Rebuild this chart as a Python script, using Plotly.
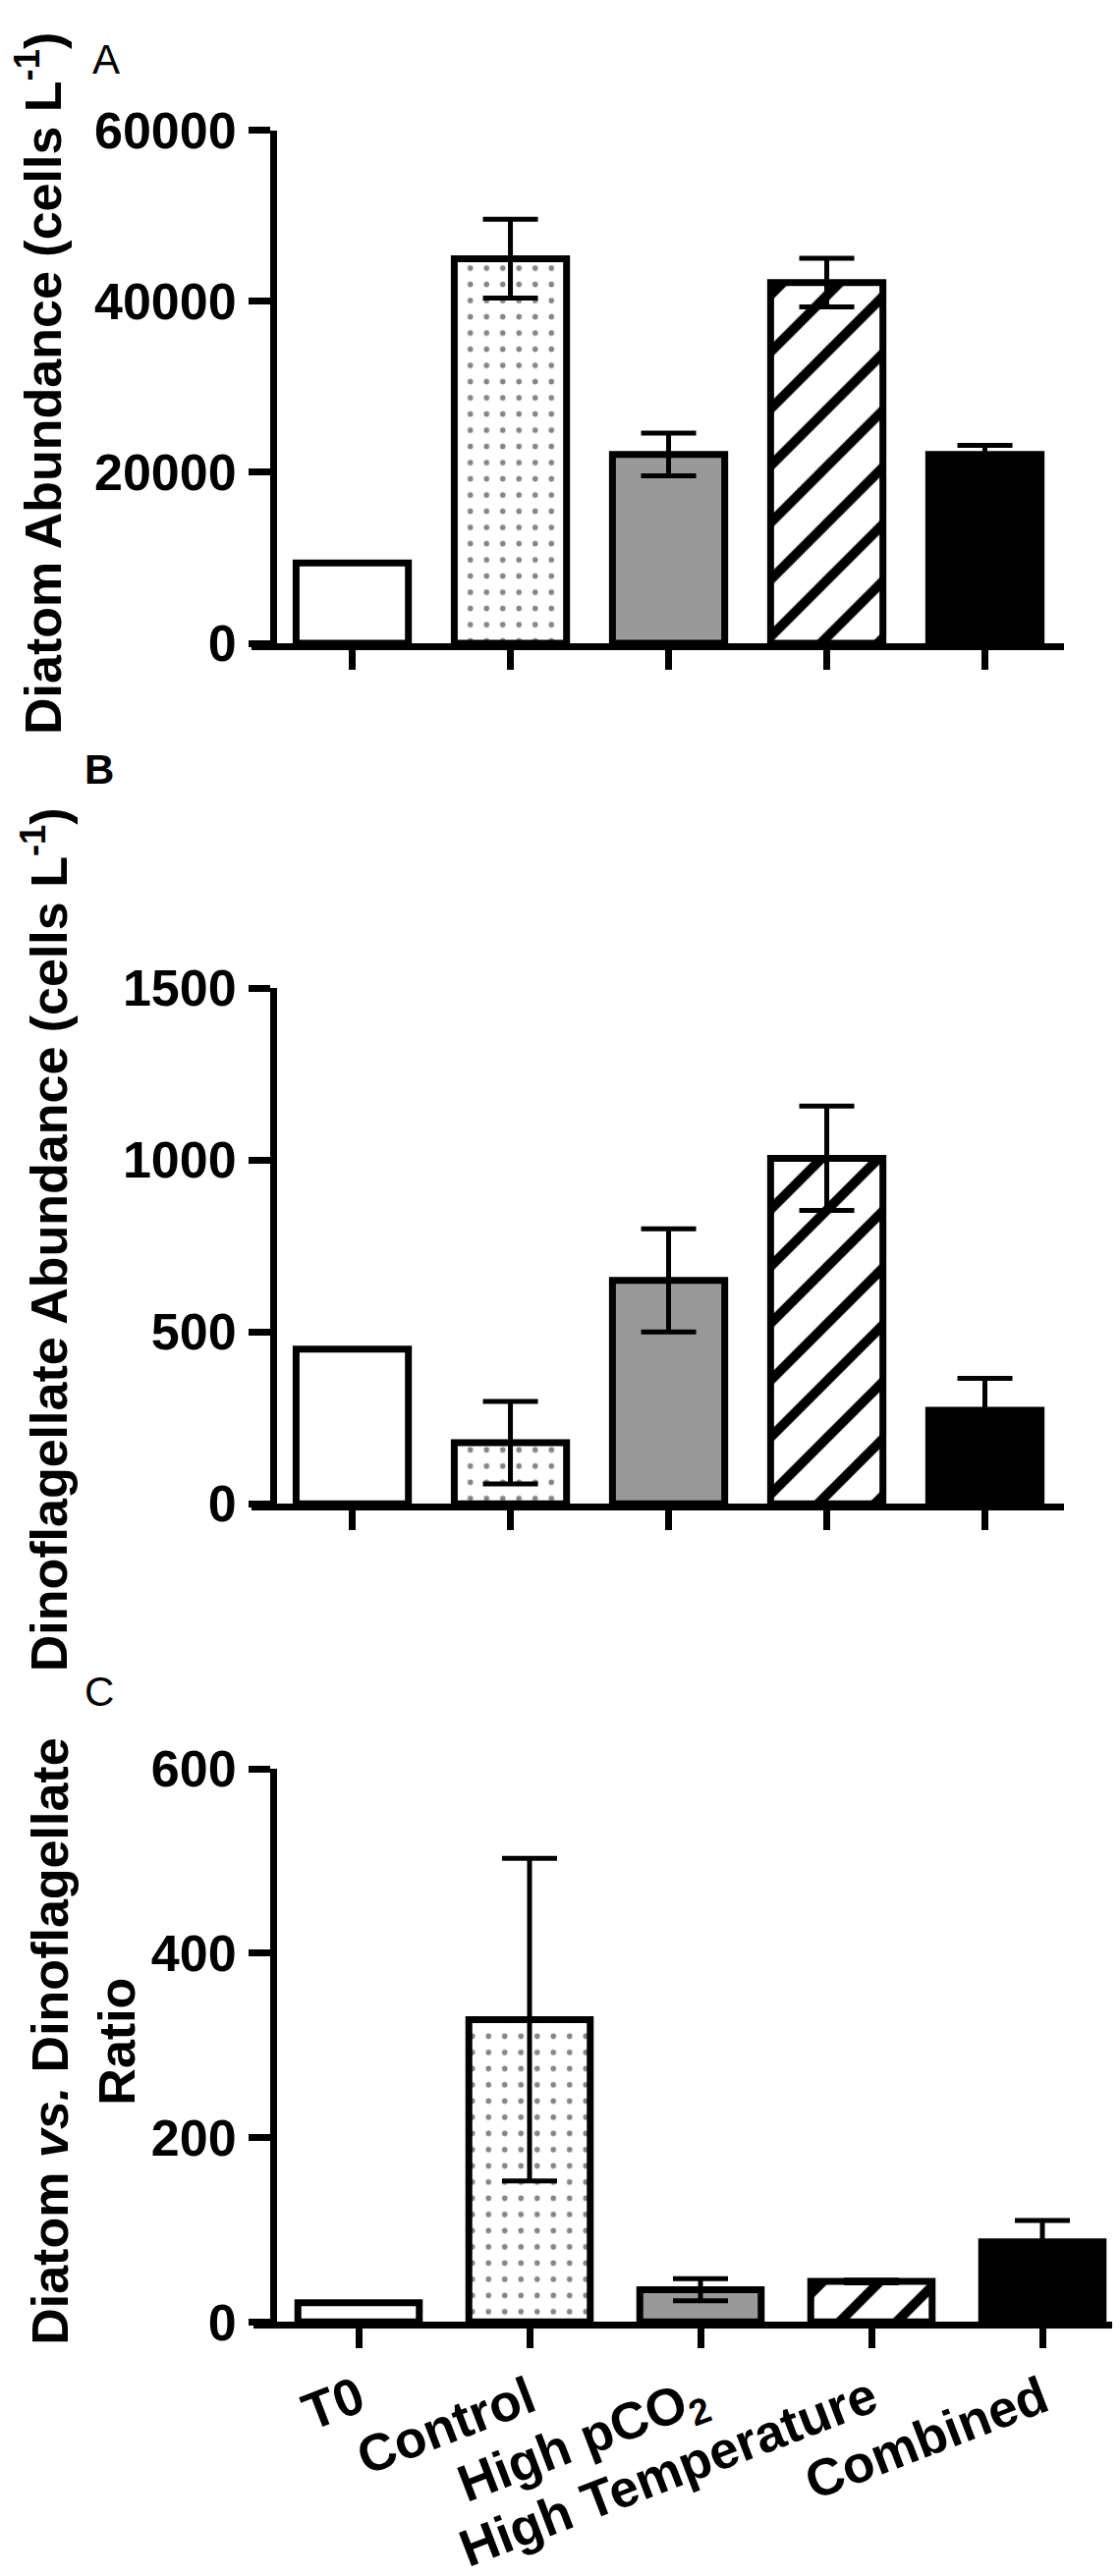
import plotly.graph_objects as go

# dati
categorie = ["T0", "Control", "High pCO<sub>2</sub>", "High Temperature", "Combined"]

diatomee = [9400, 45000, 22100, 42200, 22100]
diatomee_err = [None, 4600, 2500, 2850, 1050]

dinoflagellati = [450, 178, 650, 1005, 272]
dinoflagellati_err = [None, 120, 150, 152, 93]

rapporto = [21, 328, 35, 44, 87]
rapporto_err = [None, 175, 12, 1.5, 23]

tick_a = [0, 20000, 40000, 60000]
tick_b = [0, 500, 1000, 1500]
tick_c = [0, 200, 400, 600]

# stile delle barre (una traccia per barra, cosi' il pattern usa i colori dati)
riempimento = ["white", "white", "#999999", "white", "black"]
trama = ["", ".", "", "/", ""]
colore_trama = ["black", "#858585", "black", "black", "black"]
dim_trama = [10, 16.5, 10, 41, 10]
solidita = [0.3, 0.09, 0.3, 0.24, 0.3]

W, H = 1140, 2623
FONT = "Liberation Sans, Arial, sans-serif"


def fx(px):
    return px / W


def fy(px):
    return 1 - px / H


def barre(fig, valori, errori, xa, ya):
    for i, cat in enumerate(categorie):
        if trama[i]:
            pattern = dict(shape=trama[i], fgcolor=colore_trama[i], bgcolor=riempimento[i],
                           size=dim_trama[i], solidity=solidita[i], fgopacity=1)
        else:
            pattern = dict(shape="")
        if errori[i] is None:
            err = dict(visible=False)
        else:
            err = dict(type="data", array=[errori[i]], visible=True, color="black",
                       thickness=5, width=28)
        fig.add_trace(go.Bar(
            x=[cat],
            y=[valori[i]],
            width=0.71,
            marker=dict(color=riempimento[i], line=dict(color="black", width=7),
                        pattern=pattern),
            error_y=err,
            xaxis=xa,
            yaxis=ya,
            showlegend=False,
        ))


fig = go.Figure()
barre(fig, diatomee, diatomee_err, "x", "y")
barre(fig, dinoflagellati, dinoflagellati_err, "x2", "y2")
barre(fig, rapporto, rapporto_err, "x3", "y3")

asse_x = dict(
    type="category",
    categoryorder="array", categoryarray=categorie,
    showline=True, linecolor="black", linewidth=7,
    ticks="outside", ticklen=20, tickwidth=7, tickcolor="black",
    showgrid=False, zeroline=False,
)
asse_y = dict(
    showline=True, linecolor="black", linewidth=7,
    ticks="outside", ticklen=22, tickwidth=7, tickcolor="black",
    showgrid=False, zeroline=False, anchor="free", position=fx(270),
    tickmode="array", tickformat="d", ticklabelstandoff=2,
    tickfont=dict(family=FONT, size=52, color="black", weight="bold"),
)

fig.update_layout(
    width=W,
    height=H,
    margin=dict(l=0, r=0, t=0, b=0),
    paper_bgcolor="white",
    plot_bgcolor="white",
    barmode="overlay",
    xaxis=dict(asse_x, domain=[fx(248), fx(1075)], range=[-0.637, 4.5],
               anchor="y", showticklabels=False),
    yaxis=dict(asse_y, domain=[fy(632), fy(98)], range=[0, 60000], tickvals=tick_a),
    xaxis2=dict(asse_x, domain=[fx(248), fx(1075)], range=[-0.637, 4.5],
                anchor="y2", showticklabels=False),
    yaxis2=dict(asse_y, domain=[fy(1528), fy(991)], range=[0, 1500], tickvals=tick_b),
    xaxis3=dict(asse_x, domain=[fx(250), 1.0], range=[-0.615, 4.5],
                anchor="y3", tickangle=-21,
                tickfont=dict(family=FONT, size=53, color="black", weight="bold")),
    yaxis3=dict(asse_y, domain=[fy(2380), fy(1804)], range=[0, 600], tickvals=tick_c),
)

titolo = dict(family=FONT, size=52, color="black", weight="bold")
annotazioni = [
    dict(text="Diatom Abundance (cells L<sup>-1</sup>)", x=fx(32), y=fy(362),
         textangle=-90, font=titolo),
    dict(text="Dinoflagellate Abundance (cells L<sup>-1</sup>)", x=fx(38), y=fy(1253),
         textangle=-90, font=titolo),
    dict(text="Diatom <i>vs.</i> Dinoflagellate<br>Ratio", x=fx(77), y=fy(2088),
         textangle=-90, font=titolo),
    dict(text="A", x=fx(100), y=fy(24), font=dict(family=FONT, size=42, color="black")),
    dict(text="B", x=fx(93), y=fy(763),
         font=dict(family=FONT, size=42, color="black", weight="bold")),
    dict(text="C", x=fx(93), y=fy(1724), font=dict(family=FONT, size=42, color="black")),
]
for a in annotazioni:
    fig.add_annotation(xref="paper", yref="paper", showarrow=False,
                       xanchor="center", yanchor="middle", **a)

fig.write_html("out.html")
